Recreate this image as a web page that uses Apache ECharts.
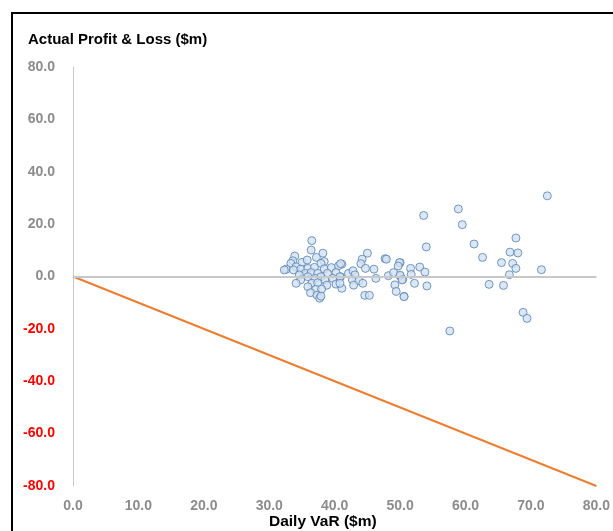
<!DOCTYPE html>
<html><head><meta charset="utf-8">
<script src="https://cdn.jsdelivr.net/npm/echarts@6/dist/echarts.min.js"></script>
<style>html,body{margin:0;padding:0;background:#fff}#c{width:613px;height:531px}</style>
</head><body><div id="c"></div>
<script>
var title = "Actual Profit & Loss ($m)";
var xName = "Daily VaR ($m)";
var xTicks = [0, 10, 20, 30, 40, 50, 60, 70, 80];
var yTicks = [-80, -60, -40, -20, 0, 20, 40, 60, 80];
var varValues = [72.5,58.9,59.5,61.3,62.6,67.7,66.8,68.0,65.5,67.2,67.7,66.7,71.6,63.6,65.8,68.8,69.4,57.6,
53.6,54.0,51.6,51.7,53.0,53.8,52.2,54.1,50.6,50.0,50.0,50.4,
45.0,44.2,44.0,44.7,41.1,42.1,42.8,43.1,40.9,42.7,43.7,44.3,42.9,41.1,44.6,45.3,46.0,46.3,47.7,47.9,49.9,49.7,48.2,49.0,50.0,50.3,49.2,49.4,50.6,
36.5,36.4,38.2,37.2,33.9,33.6,33.3,35.0,35.8,38.4,37.9,32.6,34.1,34.8,35.9,36.9,38.4,39.5,40.6,40.9,33.7,35.5,36.4,37.4,38.9,40.2,34.6,35.9,37.0,37.9,38.5,39.7,40.8,34.8,36.5,37.4,38.8,40.2,40.8,35.9,37.1,38.0,36.3,37.3,37.7,37.9,32.3,34.1];
var plValues = [30.8,25.8,19.8,12.4,7.3,14.7,9.3,9.0,5.3,5.0,3.1,0.7,2.6,-3.0,-3.4,-13.7,-16.0,-20.8,
23.3,11.3,3.1,0.8,3.6,1.7,-2.6,-3.6,-7.6,5.3,0.2,-1.1,
8.9,6.6,4.9,3.1,4.7,1.2,2.2,0.6,-0.1,-1.3,-1.6,-2.6,-3.3,-4.5,-7.2,-7.2,2.8,-0.7,6.8,6.6,5.3,4.0,0.3,1.5,0.5,-1.3,-3.2,-5.7,-7.7,
13.7,10.1,8.9,7.3,7.8,6.0,5.0,5.4,6.3,5.7,5.0,2.8,3.7,2.8,3.1,3.5,2.9,3.4,4.1,4.9,2.5,1.2,1.5,1.2,1.2,1.5,0.6,-0.1,-0.7,-0.1,-1.3,-0.7,-0.1,-1.3,-2.6,-2.4,-3.3,-2.9,-2.6,-3.9,-4.9,-4.8,-6.2,-7.1,-8.3,-7.5,2.5,-2.6];
var lineX = [0, 80];
var lineY = [0, -80];

var points = varValues.map(function(v,i){return [v, plValues[i]];});
var linePts = lineX.map(function(v,i){return [v, lineY[i]];});
var FF = '"Liberation Sans", Arial, sans-serif';

var chart = echarts.init(document.getElementById('c'));
chart.setOption({
  animation:false,
  graphic:[
    {type:'rect', shape:{x:12,y:13,width:700,height:600}, style:{fill:'none', stroke:'#000', lineWidth:2}},
    {type:'text', left:28, top:32, style:{text:title, font:'bold 15px ' + FF, fill:'#000'}},
    {type:'text', left:269, top:514, style:{text:xName, font:'bold 15.5px ' + FF, fill:'#000'}}
  ],
  grid:{left:73, right:15, top:67, bottom:45},
  xAxis:{type:'value', min:xTicks[0], max:xTicks[xTicks.length-1], interval:10,
    axisLine:{show:false}, axisTick:{show:false}, splitLine:{show:false},
    axisLabel:{color:'#8c8c8c', fontWeight:'bold', fontSize:14, margin:13, fontFamily:FF,
      formatter:function(v){return v.toFixed(1);}}},
  yAxis:{type:'value', min:yTicks[0], max:yTicks[yTicks.length-1], interval:20,
    axisLine:{show:true, onZero:false, lineStyle:{color:'#c8c8c8', width:1}}, axisTick:{show:false}, splitLine:{show:false},
    axisLabel:{fontWeight:'bold', fontSize:14, margin:18, fontFamily:FF,
      color:function(v){return v < 0 ? '#ff0000' : '#8c8c8c';},
      formatter:function(v){return v.toFixed(1);}}},
  series:[
    {type:'line', data:linePts, symbol:'none', lineStyle:{color:'#ed7d31', width:2}, z:1},
    {type:'scatter', data:points, symbol:'circle', symbolSize:8,
      itemStyle:{color:'#d3e1f2', borderColor:'#5381b0', borderWidth:1}, z:3,
      markLine:{silent:true, symbol:'none', label:{show:false}, lineStyle:{color:'#c8c8c8', width:2, type:'solid'},
        data:[{yAxis:0}]}}
  ]
});
</script></body></html>
